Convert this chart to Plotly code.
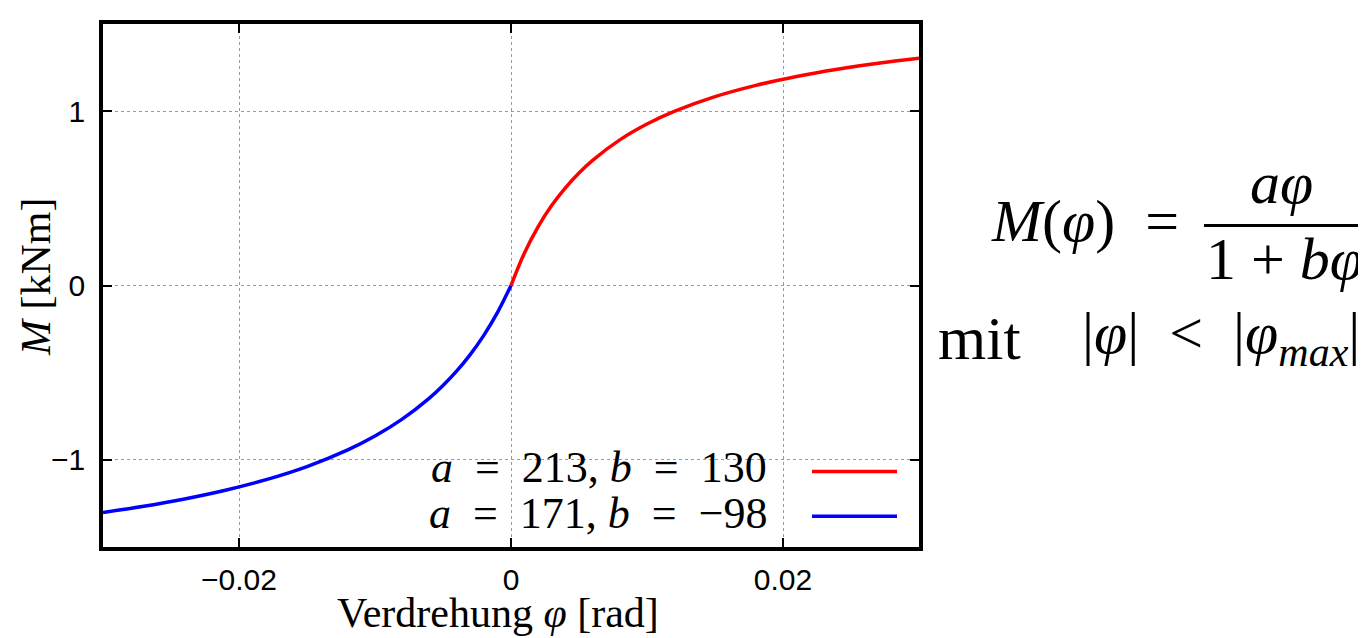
import plotly.graph_objects as go

# ---- data ----
phi_pos = [0.0, 0.001, 0.002, 0.003, 0.004, 0.005, 0.006, 0.008, 0.010, 0.012,
           0.015, 0.018, 0.021, 0.024, 0.027, 0.030]
m_pos = [0.0, 0.1885, 0.3381, 0.4597, 0.5605, 0.6455, 0.7180, 0.8353, 0.9261, 0.9984,
         1.0831, 1.1479, 1.1992, 1.2408, 1.2752, 1.3041]
phi_neg = [0.0, -0.001, -0.002, -0.003, -0.004, -0.005, -0.006, -0.008, -0.010, -0.012,
           -0.015, -0.018, -0.021, -0.024, -0.027, -0.030]
m_neg = [0.0, -0.1557, -0.2860, -0.3964, -0.4914, -0.5738, -0.6461, -0.7668, -0.8636, -0.9430,
         -1.0385, -1.1136, -1.1743, -1.2243, -1.2663, -1.3020]

NB = "\u00a0"
series_names = [f"<i>a</i>{NB*2}={NB*2}213,{NB}<i>b</i>{NB*2}={NB*2}130",
                f"<i>a</i>{NB*2}={NB*2}171,{NB}<i>b</i>{NB*2}={NB*2}\u221298"]
series_colors = ["#ff0000", "#0000ff"]

x_tickvals = [-0.02, 0, 0.02]
x_ticktext = ["\u22120.02", "0", "0.02"]
y_tickvals = [-1, 0, 1]
y_ticktext = ["\u22121", "0", "1"]

x_title = f"Verdrehung{NB}<i>φ</i>{NB}[rad]"
y_title = f"<i>M</i>{NB}[kNm]"

# ---- layout geometry (page pixels; the page body has an 8px margin) ----
OFF = 8
PW, PH = 1366, 638
L, R, T, B = 103, 919, 20, 547


def px(x):
    return (x - L) / (R - L)


def py(y):
    return (B - y) / (B - T)


SERIF = "Liberation Serif"
SANS = "Liberation Sans"

fig = go.Figure()
fig.add_trace(go.Scatter(x=phi_pos, y=m_pos, mode="lines", line_shape="spline",
                         line=dict(color=series_colors[0], width=3.5), name=series_names[0],
                         showlegend=False))
fig.add_trace(go.Scatter(x=phi_neg, y=m_neg, mode="lines", line_shape="spline",
                         line=dict(color=series_colors[1], width=3.5), name=series_names[1],
                         showlegend=False))

axis_common = dict(showline=True, linecolor="black", linewidth=3.5, mirror="ticks",
                   ticks="inside", ticklen=9, tickwidth=2, tickcolor="black",
                   showgrid=True, gridcolor="#9a9a9a", gridwidth=1.3, griddash="dot",
                   zeroline=False, tickfont=dict(family=SANS, size=30, color="black"))

fig.update_xaxes(range=[-0.03, 0.03], tickvals=x_tickvals, ticktext=x_ticktext,
                 ticklabelstandoff=3, **axis_common)
fig.update_yaxes(range=[-1.5, 1.5], tickvals=y_tickvals, ticktext=y_ticktext,
                 ticklabelstandoff=8, **axis_common)

shapes = []
# opaque key box
shapes.append(dict(type="rect", xref="paper", yref="paper", x0=px(428), x1=px(788),
                   y0=py(547), y1=py(456), fillcolor="white", line=dict(width=0),
                   layer="between"))
# key line samples
for i, yy in enumerate([471, 516]):
    shapes.append(dict(type="line", xref="paper", yref="paper", x0=px(812), x1=px(897),
                       y0=py(yy), y1=py(yy), line=dict(color=series_colors[i], width=3.5)))
# fraction bar
shapes.append(dict(type="line", xref="paper", yref="paper", x0=px(1204), x1=px(1362),
                   y0=py(223), y1=py(223), line=dict(color="black", width=3)))

ann = []
for i, yy in enumerate([467, 513]):
    ann.append(dict(text=series_names[i], xref="paper", yref="paper", x=px(769), y=py(yy),
                    xanchor="right", yanchor="middle", showarrow=False,
                    font=dict(family=SERIF, size=44, color="black")))
ann.append(dict(text=x_title, xref="paper", yref="paper", x=px(498), y=py(614),
                xanchor="center", yanchor="middle", showarrow=False,
                font=dict(family=SERIF, size=42, color="black")))
ann.append(dict(text=y_title, xref="paper", yref="paper", x=px(36), y=py(275),
                xanchor="center", yanchor="middle", showarrow=False, textangle=-90,
                font=dict(family=SERIF, size=42, color="black")))
# formula
ann.append(dict(text=f"<i>M</i>(<i>φ</i>){NB*2}=", xref="paper", yref="paper", x=px(1181), y=py(219),
                xanchor="right", yanchor="middle", showarrow=False,
                font=dict(family=SERIF, size=60, color="black")))
ann.append(dict(text="<i>aφ</i>", xref="paper", yref="paper", x=px(1281), y=py(180),
                xanchor="center", yanchor="middle", showarrow=False,
                font=dict(family=SERIF, size=60, color="black")))
ann.append(dict(text=f"1{NB}+{NB}<i>bφ</i>", xref="paper", yref="paper", x=px(1284), y=py(257),
                xanchor="center", yanchor="middle", showarrow=False,
                font=dict(family=SERIF, size=60, color="black")))
ann.append(dict(text="mit", xref="paper", yref="paper", x=px(936), y=py(336),
                xanchor="left", yanchor="middle", showarrow=False,
                font=dict(family=SERIF, size=62, color="black")))
ann.append(dict(text=f"|<i>φ</i>|{NB*2}<{NB*2}|<i>φ</i><sub><i>max</i></sub>|",
                xref="paper", yref="paper", x=px(1362), y=py(336),
                xanchor="right", yanchor="middle", showarrow=False,
                font=dict(family=SERIF, size=60, color="black")))

fig.update_layout(width=PW - OFF, height=PH - OFF,
                  margin=dict(l=L - OFF, r=PW - R, t=T - OFF, b=PH - B),
                  paper_bgcolor="white", plot_bgcolor="white", showlegend=False,
                  shapes=shapes, annotations=ann)

fig.write_html("out.html")
